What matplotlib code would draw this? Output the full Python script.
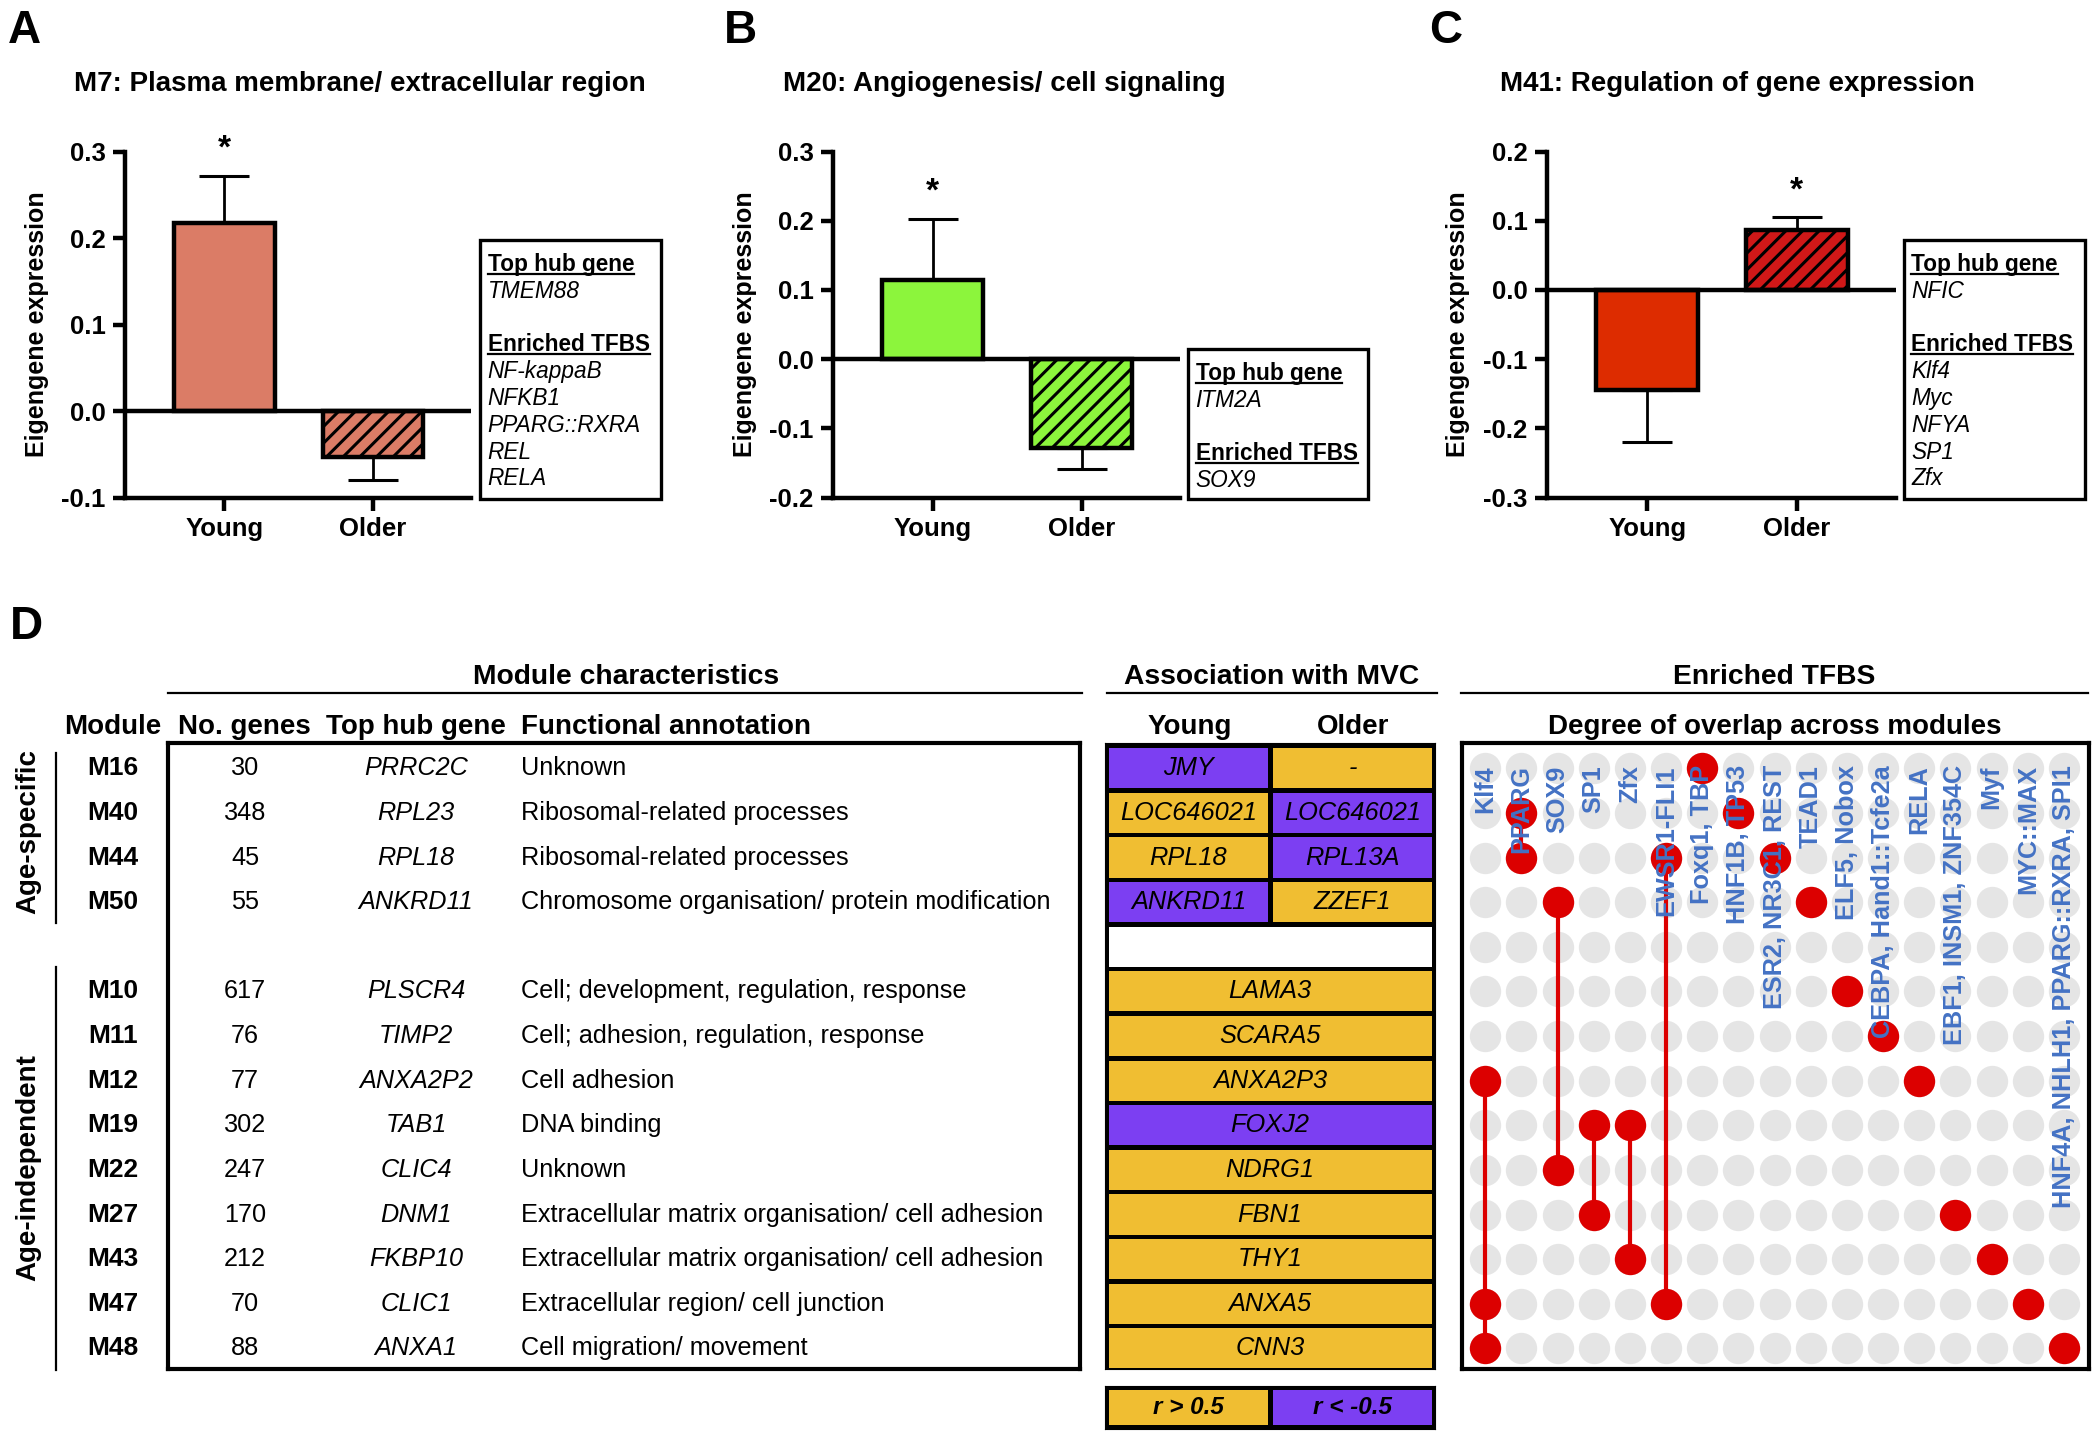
import numpy as np
import matplotlib.pyplot as plt
from matplotlib.patches import Rectangle

plt.rcParams['font.family'] = ['Liberation Sans', 'DejaVu Sans']
plt.rcParams['axes.unicode_minus'] = False
plt.rcParams['hatch.linewidth'] = 2.2

# ---------------- panels A-C: eigengene expression ----------------
groups = ['Young', 'Older']

title_a = 'M7: Plasma membrane/ extracellular region'
means_a = [0.217, -0.053]
sems_a = [0.055, 0.027]
yticks_a = [-0.1, 0.0, 0.1, 0.2, 0.3]
hub_a = 'TMEM88'
tfbs_a = ['NF-kappaB', 'NFKB1', 'PPARG::RXRA', 'REL', 'RELA']

title_b = 'M20: Angiogenesis/ cell signaling'
means_b = [0.115, -0.128]
sems_b = [0.088, 0.030]
yticks_b = [-0.2, -0.1, 0.0, 0.1, 0.2, 0.3]
hub_b = 'ITM2A'
tfbs_b = ['SOX9']

title_c = 'M41: Regulation of gene expression'
means_c = [-0.144, 0.086]
sems_c = [0.076, 0.019]
yticks_c = [-0.3, -0.2, -0.1, 0.0, 0.1, 0.2]
hub_c = 'NFIC'
tfbs_c = ['Klf4', 'Myc', 'NFYA', 'SP1', 'Zfx']

# ---------------- panel D: module table ----------------
modules = ['M16', 'M40', 'M44', 'M50', 'M10', 'M11', 'M12', 'M19', 'M22',
           'M27', 'M43', 'M47', 'M48']
n_genes = [30, 348, 45, 55, 617, 76, 77, 302, 247, 170, 212, 70, 88]
hub_genes = ['PRRC2C', 'RPL23', 'RPL18', 'ANKRD11', 'PLSCR4', 'TIMP2', 'ANXA2P2',
             'TAB1', 'CLIC4', 'DNM1', 'FKBP10', 'CLIC1', 'ANXA1']
annotations = ['Unknown',
               'Ribosomal-related processes',
               'Ribosomal-related processes',
               'Chromosome organisation/ protein modification',
               'Cell; development, regulation, response',
               'Cell; adhesion, regulation, response',
               'Cell adhesion',
               'DNA binding',
               'Unknown',
               'Extracellular matrix organisation/ cell adhesion',
               'Extracellular matrix organisation/ cell adhesion',
               'Extracellular region/ cell junction',
               'Cell migration/ movement']
n_specific = 4

# association with MVC (+1: r > 0.5, -1: r < -0.5)
mvc_young = ['JMY', 'LOC646021', 'RPL18', 'ANKRD11']
sign_young = [-1, 1, 1, -1]
mvc_older = ['-', 'LOC646021', 'RPL13A', 'ZZEF1']
sign_older = [1, -1, -1, 1]
mvc_shared = ['LAMA3', 'SCARA5', 'ANXA2P3', 'FOXJ2', 'NDRG1', 'FBN1', 'THY1',
              'ANXA5', 'CNN3']
sign_shared = [1, 1, 1, -1, 1, 1, 1, 1, 1]

# enriched TFBS and the modules they are found in
tf_labels = ['Klf4', 'PPARG', 'SOX9', 'SP1', 'Zfx', 'EWSR1-FLI1', 'Foxq1, TBP',
             'HNF1B, TP53', 'ESR2, NR3C1, REST', 'TEAD1', 'ELF5, Nobox',
             'CEBPA, Hand1::Tcfe2a', 'RELA', 'EBF1, INSM1, ZNF354C', 'Myf',
             'MYC::MAX', 'HNF4A, NHLH1, PPARG::RXRA, SPI1']
tf_modules = [['M12', 'M47', 'M48'], ['M40', 'M44'], ['M50', 'M22'],
              ['M19', 'M27'], ['M19', 'M43'], ['M44', 'M47'], ['M16'], ['M40'],
              ['M44'], ['M50'], ['M10'], ['M11'], ['M12'], ['M27'], ['M43'],
              ['M47'], ['M48']]

# layout
W, H = 2100, 1438
GOLD = '#F0BE32'
PURPLE = '#7C3FF2'
RED = '#DC0000'
GREY = '#E5E5E5'
BLUE = '#4472C4'

rows = [i if i < n_specific else i + 1 for i in range(len(modules))]
row_of = dict(zip(modules, rows))
n_rows = len(modules) + 1
row_top, row_bottom = -0.567, 13.462


def px_rect(x0, y0, x1, y1):
    return [x0 / W, 1 - y1 / H, (x1 - x0) / W, (y1 - y0) / H]


fig = plt.figure(figsize=(21, 14.38), dpi=100)
axd = fig.add_axes([0, 0, 1, 1])
axd.set_xlim(0, W)
axd.set_ylim(H, 0)
axd.axis('off')

heads = []


def bar_panel(rect, means, sems, colors, yticks, star, title, title_x,
              letter, letter_x, box_x, box_top, hub, tfbs):
    ax = fig.add_axes(px_rect(*rect))
    x = np.arange(len(groups))
    bars = ax.bar(x, means, width=0.68, color=colors, edgecolor='black',
                  linewidth=3.2, zorder=3)
    bars[1].set_hatch('//')
    lower = [s if m < 0 else 0 for m, s in zip(means, sems)]
    upper = [s if m > 0 else 0 for m, s in zip(means, sems)]
    ax.errorbar(x, means, yerr=[lower, upper], fmt='none', ecolor='black',
                elinewidth=2, capsize=18, capthick=2.2, zorder=2)
    ax.axhline(0, color='black', lw=3.2, zorder=4)
    ax.set_xlim(-0.67, 1.66)
    ax.set_ylim(yticks[0], yticks[-1])
    ax.set_yticks(yticks)
    ax.set_yticklabels(['%.1f' % t for t in yticks])
    ax.set_xticks(x)
    ax.set_xticklabels(groups)
    ax.tick_params(width=3.2, length=9, labelsize=18.5, pad=5)
    for lab in ax.get_xticklabels() + ax.get_yticklabels():
        lab.set_fontweight('bold')
    for s in ['top', 'right']:
        ax.spines[s].set_visible(False)
    for s in ['left', 'bottom']:
        ax.spines[s].set_linewidth(3.2)
        ax.spines[s].set_capstyle('projecting')
    ax.set_ylabel('Eigengene expression', fontsize=18, fontweight='bold')
    ax.yaxis.set_label_coords(-0.255, 0.5)
    ax.yaxis.label.set_va('center')
    top = means[star] + sems[star]
    ax.annotate('*', xy=(star, top), xytext=(0, 19), textcoords='offset points',
                ha='center', va='center', fontsize=24, fontweight='bold')
    w = rect[2] - rect[0]
    ax.text((title_x - rect[0]) / w, 1 + (rect[1] - 84) / (rect[3] - rect[1]),
            title, transform=ax.transAxes, ha='left', va='center',
            fontsize=20, fontweight='bold')
    axd.text(letter_x, 9, letter, fontsize=33, fontweight='bold',
             ha='left', va='top')
    # info box
    axd.add_patch(Rectangle((box_x[0], box_top), box_x[1] - box_x[0],
                            499 - box_top, fill=False, lw=2.4, ec='black'))
    lines = [('Top hub gene', 'h'), (hub, 'g'), ('', ''), ('Enriched TFBS', 'h')]
    lines += [(t, 'g') for t in tfbs]
    for i, (s, kind) in enumerate(lines):
        yb = box_top + 23 + 26.8 * i + 8
        if kind == 'h':
            t = axd.text(box_x[0] + 7.5, yb, s, fontsize=16.3, fontweight='bold',
                         va='baseline')
            heads.append((t, yb))
        elif kind == 'g':
            axd.text(box_x[0] + 7.5, yb, s, fontsize=16.3, style='italic',
                     va='baseline')
    return ax


bar_panel((125, 151.5, 471, 497.6), means_a, sems_a, ['#DB7C66', '#DB7C66'],
          yticks_a, 0, title_a, 74, 'A', 8, (480, 661), 240, hub_a, tfbs_a)
bar_panel((833, 151.5, 1180, 497.6), means_b, sems_b, ['#8CF53C', '#8CF53C'],
          yticks_b, 0, title_b, 783, 'B', 724, (1188, 1368), 349, hub_b, tfbs_b)
bar_panel((1547, 151.5, 1895.5, 497.6), means_c, sems_c, ['#DD2C00', '#D01818'],
          yticks_c, 1, title_c, 1500, 'C', 1429, (1903.6, 2085), 240, hub_c, tfbs_c)

# ---------------- panel D headers ----------------
axd.text(10, 605, 'D', fontsize=33, fontweight='bold', ha='left', va='top')
for s, xc in [('Module characteristics', 626), ('Association with MVC', 1272),
              ('Enriched TFBS', 1774)]:
    axd.text(xc, 677, s, fontsize=20.3, fontweight='bold', ha='center', va='center')
for x0, x1 in [(168, 1082), (1107, 1437), (1461, 2088)]:
    axd.plot([x0, x1], [692.5, 692.5], color='black', lw=1.6)
for s, xc in [('Module', 112.5), ('No. genes', 244), ('Top hub gene', 416),
              ('Young', 1190), ('Older', 1353),
              ('Degree of overlap across modules', 1775)]:
    axd.text(xc, 727, s, fontsize=20, fontweight='bold', ha='center', va='center')
axd.text(521, 727, 'Functional annotation', fontsize=20, fontweight='bold',
         ha='left', va='center')
axd.text(28.6, 832, 'Age-specific', fontsize=20, fontweight='bold', rotation=90,
         ha='center', va='center')
axd.text(28.6, 1167.5, 'Age-independent', fontsize=20, fontweight='bold',
         rotation=90, ha='center', va='center')
axd.plot([56, 56], [753, 923], color='black', lw=1.6)
axd.plot([56, 56], [967, 1370], color='black', lw=1.6)

# module characteristics table
axm = fig.add_axes(px_rect(168, 743, 1080, 1369))
axm.set_xlim(168, 1080)
axm.set_ylim(row_bottom, row_top)
axm.set_xticks([])
axm.set_yticks([])
for sp in axm.spines.values():
    sp.set_linewidth(3)
for r, m, n, g, a in zip(rows, modules, n_genes, hub_genes, annotations):
    axm.text(113, r, m, fontsize=19, fontweight='bold', ha='center', va='center',
             clip_on=False)
    axm.text(245, r, str(n), fontsize=18.2, ha='center', va='center')
    axm.text(416, r, g, fontsize=18.2, style='italic', ha='center', va='center')
    axm.text(521, r, a, fontsize=18.2, ha='left', va='center')

# association with MVC
axv = fig.add_axes(px_rect(1105, 743, 1435, 1369))
axv.set_facecolor('black')
axv.set_xlim(0, 2)
axv.set_ylim(row_bottom, row_top)
axv.set_xticks([])
axv.set_yticks([])
sign_color = {1: GOLD, -1: PURPLE}
r_spec = rows[:n_specific]
r_ind = rows[n_specific:]
axv.barh(r_spec, 0.964, left=0.024, height=0.9,
         color=[sign_color[s] for s in sign_young])
axv.barh(r_spec, 0.964, left=1.018, height=0.9,
         color=[sign_color[s] for s in sign_older])
axv.barh([n_specific], 1.958, left=0.024, height=0.9, color='white')
axv.barh(r_ind, 1.958, left=0.024, height=0.9,
         color=[sign_color[s] for s in sign_shared])
for r, gy, go in zip(r_spec, mvc_young, mvc_older):
    axv.text(0.506, r, gy, fontsize=18.3, style='italic', ha='center', va='center')
    axv.text(1.5, r, go, fontsize=18.3, style='italic', ha='center', va='center')
for r, g in zip(r_ind, mvc_shared):
    axv.text(1.0, r, g, fontsize=18.3, style='italic', ha='center', va='center')

axl = fig.add_axes(px_rect(1105, 1386, 1435, 1429))
axl.set_facecolor('black')
axl.set_xlim(0, 2)
axl.set_ylim(0, 1)
axl.set_xticks([])
axl.set_yticks([])
axl.barh([0.5, 0.5], [0.964, 0.964], left=[0.024, 1.018], height=0.8,
         color=[GOLD, PURPLE])
axl.text(0.506, 0.5, 'r > 0.5', fontsize=17.5, fontweight='bold', style='italic',
         ha='center', va='center')
axl.text(1.5, 0.5, 'r < -0.5', fontsize=17.5, fontweight='bold', style='italic',
         ha='center', va='center')

# TFBS overlap matrix
axo = fig.add_axes(px_rect(1462, 743, 2088.6, 1369))
axo.set_xlim(-0.644, 16.68)
axo.set_ylim(row_bottom, row_top)
axo.set_xticks([])
axo.set_yticks([])
for sp in axo.spines.values():
    sp.set_linewidth(3)
gx, gy = np.meshgrid(np.arange(len(tf_labels)), np.arange(n_rows))
axo.scatter(gx.ravel(), gy.ravel(), s=510, color=GREY, linewidths=0, zorder=1)
for c, (lab, mods) in enumerate(zip(tf_labels, tf_modules)):
    rr = [row_of[m] for m in mods]
    if len(rr) > 1:
        axo.plot([c, c], [min(rr), max(rr)], color=RED, lw=3, zorder=2)
    axo.scatter([c] * len(rr), rr, s=510, color=RED, linewidths=0, zorder=3)
    axo.text(c, -0.07, lab, rotation=90, rotation_mode='anchor', ha='right',
             va='center', color=BLUE, fontsize=18.2, fontweight='bold', zorder=5)

# underline the info box headings
renderer = fig.canvas.get_renderer()
inv = axd.transData.inverted()
for t, yb in heads:
    bb = t.get_window_extent(renderer)
    x0 = inv.transform((bb.x0, bb.y0))[0]
    x1 = inv.transform((bb.x1, bb.y0))[0]
    axd.plot([x0, x1], [yb + 3, yb + 3], color='black', lw=1.6)

fig.savefig('out.png', dpi=100, facecolor='white')
